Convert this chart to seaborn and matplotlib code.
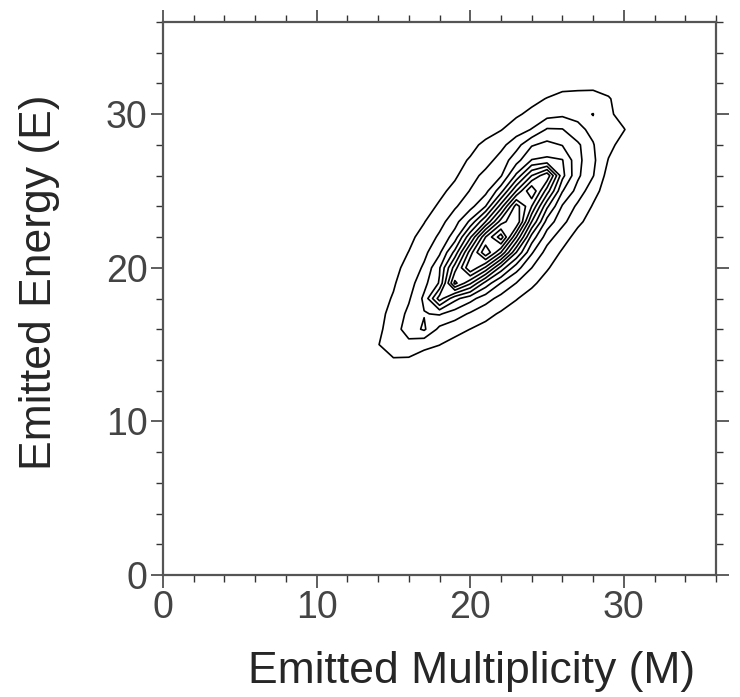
import numpy as np
import matplotlib
matplotlib.use("Agg")
import matplotlib.pyplot as plt
from matplotlib.ticker import MultipleLocator
import seaborn as sns

# Histogram bins (multiplicity M along columns, energy E along rows)
m_bins = list(range(12, 33))
e_bins = list(range(12, 35))

# Estimated yields per (E, M) bin
counts = [
    [0, 0, 0, 0.06, 0.11, 0.12, 0.08, 0.04, 0.01, 0, 0, 0, 0, 0, 0, 0, 0, 0, 0, 0, 0],
    [0, 0.05, 0.14, 0.29, 0.33, 0.29, 0.22, 0.14, 0.06, 0.02, 0, 0, 0, 0, 0, 0, 0, 0, 0, 0, 0],
    [0.03, 0.15, 0.6, 0.88, 0.85, 0.65, 0.48, 0.33, 0.2, 0.09, 0.03, 0, 0, 0, 0, 0, 0, 0, 0, 0, 0],
    [0.07, 0.35, 0.95, 1.7, 1.7, 1.2, 1.02, 0.68, 0.47, 0.29, 0.12, 0.04, 0, 0, 0, 0, 0, 0, 0, 0, 0],
    [0.15, 0.38, 0.78, 1.5, 2.5, 3.15, 1.73, 1.33, 0.99, 0.66, 0.39, 0.16, 0.04, 0, 0, 0, 0, 0, 0, 0, 0],
    [0.18, 0.38, 0.72, 1.3, 2.25, 2.95, 3.1, 2.5, 1.86, 1.33, 0.86, 0.48, 0.19, 0.05, 0, 0, 0, 0, 0, 0, 0],
    [0.17, 0.34, 0.63, 1.08, 1.87, 3.2, 6.5, 4.3, 3.36, 2.42, 1.65, 1.06, 0.57, 0.22, 0.05, 0, 0, 0, 0, 0, 0],
    [0.12, 0.28, 0.51, 0.9, 1.55, 2.7, 4.1, 9.3, 7.2, 4.6, 2.98, 1.98, 1.21, 0.58, 0.2, 0.05, 0, 0, 0, 0, 0],
    [0.08, 0.18, 0.4, 0.73, 1.3, 2.16, 3.9, 7.5, 11.0, 8.8, 5.6, 3.41, 2.01, 1.11, 0.43, 0.18, 0.06, 0, 0, 0, 0],
    [0.05, 0.11, 0.26, 0.57, 1.02, 1.75, 2.81, 5.3, 9.5, 12.9, 10.0, 6.0, 3.13, 1.59, 0.88, 0.42, 0.13, 0.04, 0, 0, 0],
    [0.02, 0.06, 0.16, 0.36, 0.77, 1.33, 2.18, 3.46, 6.8, 11.0, 13.6, 9.0, 4.6, 2.48, 1.39, 0.68, 0.33, 0.12, 0.03, 0, 0],
    [0, 0.03, 0.09, 0.21, 0.47, 0.96, 1.63, 2.6, 4.2, 7.0, 10.5, 12.0, 7.0, 3.6, 2.3, 1.2, 0.62, 0.26, 0.06, 0, 0],
    [0, 0.02, 0.05, 0.12, 0.26, 0.58, 1.14, 1.87, 2.65, 4.0, 7.5, 11.5, 9.0, 5.2, 2.9, 1.79, 0.91, 0.36, 0.12, 0.03, 0],
    [0, 0, 0.02, 0.05, 0.14, 0.31, 0.75, 1.3, 2.05, 2.7, 4.6, 8.0, 11.0, 7.5, 4.06, 2.6, 1.35, 0.5, 0.19, 0.06, 0],
    [0, 0, 0, 0.03, 0.08, 0.17, 0.35, 0.85, 1.6, 2.3, 2.9, 5.2, 8.0, 9.8, 5.3, 3.2, 2.05, 0.6, 0.2, 0.06, 0],
    [0, 0, 0, 0, 0.04, 0.1, 0.3, 0.65, 1.1, 1.6, 2.4, 3.6, 5.05, 5.2, 5.05, 3.3, 2.2, 0.95, 0.4, 0.12, 0.03],
    [0, 0, 0, 0, 0, 0.03, 0.1, 0.3, 0.7, 1.25, 1.7, 2.6, 3.9, 4.3, 3.95, 3.2, 2.05, 1.3, 0.6, 0.2, 0.05],
    [0, 0, 0, 0, 0, 0, 0, 0.05, 0.2, 0.55, 0.95, 1.5, 2.05, 3.1, 3.05, 2.2, 1.8, 1.7, 1.05, 0.35, 0.08],
    [0, 0, 0, 0, 0, 0, 0, 0, 0.05, 0.2, 0.45, 0.85, 1.25, 1.6, 1.8, 1.8, 2.02, 1.2, 0.6, 0.2, 0.04],
    [0, 0, 0, 0, 0, 0, 0, 0, 0, 0.03, 0.15, 0.4, 0.7, 1.05, 1.35, 1.45, 1.5, 1.1, 0.45, 0.1, 0],
    [0, 0, 0, 0, 0, 0, 0, 0, 0, 0, 0, 0.03, 0.15, 0.35, 0.6, 0.6, 0.6, 0.5, 0.15, 0.03, 0],
    [0, 0, 0, 0, 0, 0, 0, 0, 0, 0, 0, 0, 0, 0.05, 0.1, 0.12, 0.12, 0.08, 0, 0, 0],
    [0, 0, 0, 0, 0, 0, 0, 0, 0, 0, 0, 0, 0, 0, 0, 0, 0, 0, 0, 0, 0],
]

contour_levels = [1, 2, 3, 4, 5, 6, 7, 8, 9, 10, 11, 12, 13]
x_ticks = [0, 10, 20, 30]
y_ticks = [0, 10, 20, 30]
x_label = "Emitted Multiplicity (M)"
y_label = "Emitted Energy (E)"

sns.set_style("ticks")
plt.rcParams["font.family"] = ["Liberation Sans", "DejaVu Sans"]

W, H = 740, 697
fig = plt.figure(figsize=(W / 100, H / 100), dpi=100)
ax = fig.add_axes([163 / W, 122 / H, 553 / W, 553 / H])

ax.contour(m_bins, e_bins, np.array(counts), levels=contour_levels,
           colors="black", linewidths=1.2)

ax.set_xlim(0, 36)
ax.set_ylim(0, 36)
ax.set_xticks(x_ticks)
ax.set_yticks(y_ticks)
ax.xaxis.set_minor_locator(MultipleLocator(2))
ax.yaxis.set_minor_locator(MultipleLocator(2))

spine_col = "#555555"
for sp in ax.spines.values():
    sp.set_visible(True)
    sp.set_color(spine_col)
    sp.set_linewidth(1.6)

ax.tick_params(which="both", direction="out", top=True, right=True,
               labeltop=False, labelright=False, color="#333333")
ax.tick_params(which="major", length=9, width=1.1, labelsize=27,
               labelcolor="#444444", pad=2)
ax.tick_params(which="minor", length=5, width=1.0)

ax.set_xlabel(x_label, fontsize=32, va="center")
ax.set_ylabel(y_label, fontsize=32, va="center")
ax.xaxis.set_label_coords((472 - 163) / 553, -(672 - 575) / 553)
ax.yaxis.set_label_coords((40 - 163) / 553, (575 - 282) / 553)

fig.savefig("out.png", dpi=100)
